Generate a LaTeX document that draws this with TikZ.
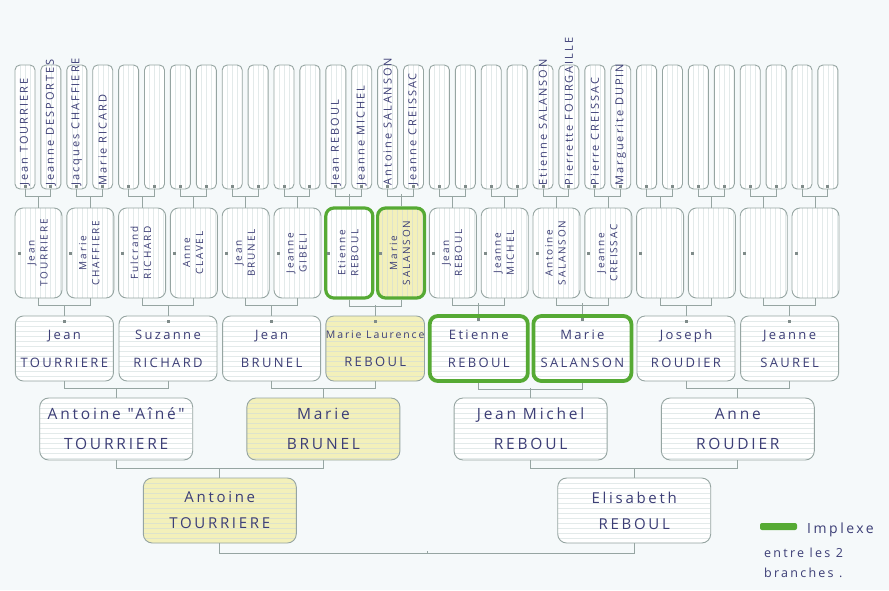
\documentclass[tikz,border=0pt]{standalone}
\usepackage{fontspec}
\setmainfont{Open Sans}
\newfontfamily\hand[LetterSpace=18]{Open Sans}
\usetikzlibrary{calc}
\definecolor{bg}{RGB}{245,249,250}
\definecolor{boxline}{RGB}{150,165,162}
\definecolor{ink}{RGB}{60,62,118}
\definecolor{implexe}{RGB}{86,170,52}
\definecolor{hl}{RGB}{243,240,186}
\definecolor{paper}{RGB}{205,218,218}
\newcommand\rtwo[2]{\rotatebox{90}{\begin{tabular}{@{}c@{}}#1\\#2\end{tabular}}}
\begin{document}
\begin{tikzpicture}[x=1pt,y=-1pt,
  paperline/.style={draw=paper,line width=0.4pt,opacity=0.55},
  vpaper/.style={path picture={\foreach \k in {1,...,12}{\draw[paperline] ([xshift={5pt*\k}]path picture bounding box.north west) -- ([xshift={5pt*\k}]path picture bounding box.south west);}}},
  hpaper/.style={path picture={\foreach \k in {1,...,16}{\draw[paperline] ([yshift={-5pt*\k}]path picture bounding box.north west) -- ([yshift={-5pt*\k}]path picture bounding box.north east);}}},
  box/.style={draw=boxline,line width=0.9pt,fill=white,inner sep=0pt,text=ink,align=center},
  bA/.style={box,vpaper,minimum width=20pt,minimum height=124pt,rounded corners=5pt},
  bB/.style={box,vpaper,minimum width=47pt,minimum height=90pt,rounded corners=8pt,font=\hand\fontsize{10}{13}\selectfont},
  bC/.style={box,hpaper,minimum width=98pt,minimum height=65pt,rounded corners=8pt,font=\hand\fontsize{13}{28}\selectfont},
  bD/.style={box,hpaper,minimum width=153pt,minimum height=62pt,rounded corners=9pt,font=\hand\fontsize{15.5}{30}\selectfont},
  bE/.style={box,hpaper,minimum width=153pt,minimum height=65pt,rounded corners=9pt,font=\hand\fontsize{15}{26}\selectfont},
  tA/.style={text=ink,inner sep=0pt,font=\hand\fontsize{11}{12}\selectfont},
  yel/.style={fill=hl},
  grn/.style={draw=implexe,line width=3.2pt},
  conn/.style={draw=boxline,line width=0.9pt},
  pinmark/.style={fill=boxline!85!black}
]
\fill[bg] (0,0) rectangle (889,590);
\useasboundingbox (0,0) rectangle (889,590);

% ---------- row 1 (32 boxes) ----------
\foreach \i in {0,...,31}{
  \node[bA] (r1-\i) at ({25+25.9*\i},127) {};
  \fill[pinmark] ($(r1-\i.south)+(-1.5,-4.5)$) rectangle ++(3,3);
}
\foreach \i/\t in {0/Jean TOURRIERE,1/Jeanne DESPORTES,2/Jacques CHAFFIERE,3/Marie RICARD,
  12/Jean REBOUL,13/Jeanne MICHEL,14/Antoine SALANSON,15/Jeanne CREISSAC,
  20/Etienne SALANSON,21/Pierrette FOURGAILLE,22/Pierre CREISSAC,23/Marguerite DUPIN}{
  \node[tA,anchor=south] (n1-\i) at ([yshift=4pt]r1-\i.south) {\rotatebox{90}{\t}};
}

% ---------- row 2 (16 boxes) ----------
\node[bB] (r2-0) at ({38.5+51.8*0},253) {\rtwo{Jean}{TOURRIERE}};
\node[bB] (r2-1) at ({38.5+51.8*1},253) {\rtwo{Marie}{CHAFFIERE}};
\node[bB] (r2-2) at ({38.5+51.8*2},253) {\rtwo{Fulcrand}{RICHARD}};
\node[bB] (r2-3) at ({38.5+51.8*3},253) {\rtwo{Anne}{CLAVEL}};
\node[bB] (r2-4) at ({38.5+51.8*4},253) {\rtwo{Jean}{BRUNEL}};
\node[bB] (r2-5) at ({38.5+51.8*5},253) {\rtwo{Jeanne}{GIBELI}};
\node[bB,grn] (r2-6) at ({38.5+51.8*6},253) {\rtwo{Etienne}{REBOUL}};
\node[bB,grn,yel] (r2-7) at ({38.5+51.8*7},253) {\rtwo{Marie}{SALANSON}};
\node[bB] (r2-8) at ({38.5+51.8*8},253) {\rtwo{Jean}{REBOUL}};
\node[bB] (r2-9) at ({38.5+51.8*9},253) {\rtwo{Jeanne}{MICHEL}};
\node[bB] (r2-10) at ({38.5+51.8*10},253) {\rtwo{Antoine}{SALANSON}};
\node[bB] (r2-11) at ({38.5+51.8*11},253) {\rtwo{Jeanne}{CREISSAC}};
\foreach \j in {12,...,15}{\node[bB] (r2-\j) at ({38.5+51.8*\j},253) {};}
\foreach \j in {0,...,15}{
  \fill[pinmark] ($(r2-\j.west)+(3,-1.5)$) rectangle ++(3,3);
}

% ---------- row 3 (8 boxes) ----------
\node[bC] (r3-0) at ({64.4+103.6*0},348.5) {Jean\\TOURRIERE};
\node[bC] (r3-1) at ({64.4+103.6*1},348.5) {Suzanne\\RICHARD};
\node[bC] (r3-2) at ({64.4+103.6*2},348.5) {Jean\\BRUNEL};
\node[bC,yel] (r3-3) at ({64.4+103.6*3},348.5) {{\fontsize{10.5}{28}\selectfont Marie Laurence}\\REBOUL};
\node[bC,grn,line width=3.8pt] (r3-4) at ({64.4+103.6*4},348.5) {Etienne\\REBOUL};
\node[bC,grn,line width=3.8pt] (r3-5) at ({64.4+103.6*5},348.5) {Marie\\SALANSON};
\node[bC] (r3-6) at ({64.4+103.6*6},348.5) {Joseph\\ROUDIER};
\node[bC] (r3-7) at ({64.4+103.6*7},348.5) {Jeanne\\SAUREL};
\foreach \k in {0,...,7}{
  \fill[pinmark] ($(r3-\k.north)+(-1.5,4)$) rectangle ++(3,3);
}

% ---------- row 4 ----------
\node[bD] (r4-0) at ({116.2+207.2*0},429) {Antoine "Aîné"\\TOURRIERE};
\node[bD,yel] (r4-1) at ({116.2+207.2*1},429) {Marie\\BRUNEL};
\node[bD] (r4-2) at ({116.2+207.2*2},429) {Jean Michel\\REBOUL};
\node[bD] (r4-3) at ({116.2+207.2*3},429) {Anne\\ROUDIER};

% ---------- row 5 ----------
\node[bE,yel] (r5-0) at (219.8,510.5) {Antoine\\TOURRIERE};
\node[bE] (r5-1) at (634.2,510.5) {Elisabeth\\REBOUL};

% ---------- connectors ----------
\foreach \j in {0,...,15}{
  \pgfmathtruncatemacro\a{2*\j}\pgfmathtruncatemacro\b{2*\j+1}
  \draw[conn] (r1-\a.south) -- ++(0,7) -| (r1-\b.south);
  \draw[conn] (r2-\j.north) -- ++(0,-12);
}
\foreach \k in {0,...,7}{
  \pgfmathtruncatemacro\a{2*\k}\pgfmathtruncatemacro\b{2*\k+1}
  \draw[conn] (r2-\a.south) -- ++(0,7) -| (r2-\b.south);
  \draw[conn] (r3-\k.north) -- ++(0,-11);
}
\foreach \m in {0,...,3}{
  \pgfmathtruncatemacro\a{2*\m}\pgfmathtruncatemacro\b{2*\m+1}
  \draw[conn] (r3-\a.south) -- ++(0,7) -| (r3-\b.south);
  \draw[conn] (r4-\m.north) -- ++(0,-10);
}
\foreach \n in {0,1}{
  \pgfmathtruncatemacro\a{2*\n}\pgfmathtruncatemacro\b{2*\n+1}
  \draw[conn] (r4-\a.south) -- ++(0,8) -| (r4-\b.south);
  \draw[conn] (r5-\n.north) -- ++(0,-10);
}
\draw[conn] (r5-0.south) -- ++(0,10) -| (r5-1.south);
\coordinate (mid) at ($(r5-0.south)!0.5!(r5-1.south)+(0,10)$);
\draw[conn] (mid) -- ++(0,-2.5);

% ---------- legend ----------
\node[fill=implexe,rounded corners=2pt,minimum width=37pt,minimum height=7pt,inner sep=0pt] (legbar) at (778.5,526.5) {};
\node[anchor=west,text=ink,inner sep=0pt,font=\hand\fontsize{14}{16}\selectfont] (legA) at (807,530) {Implexe};
\node[anchor=west,text=ink,inner sep=0pt,font=\hand\fontsize{12.5}{14}\selectfont] (legB) at (764,553) {entre les 2};
\node[anchor=west,text=ink,inner sep=0pt,font=\hand\fontsize{12.5}{14}\selectfont] (legC) at (764,573) {branches .};
\end{tikzpicture}
\end{document}
